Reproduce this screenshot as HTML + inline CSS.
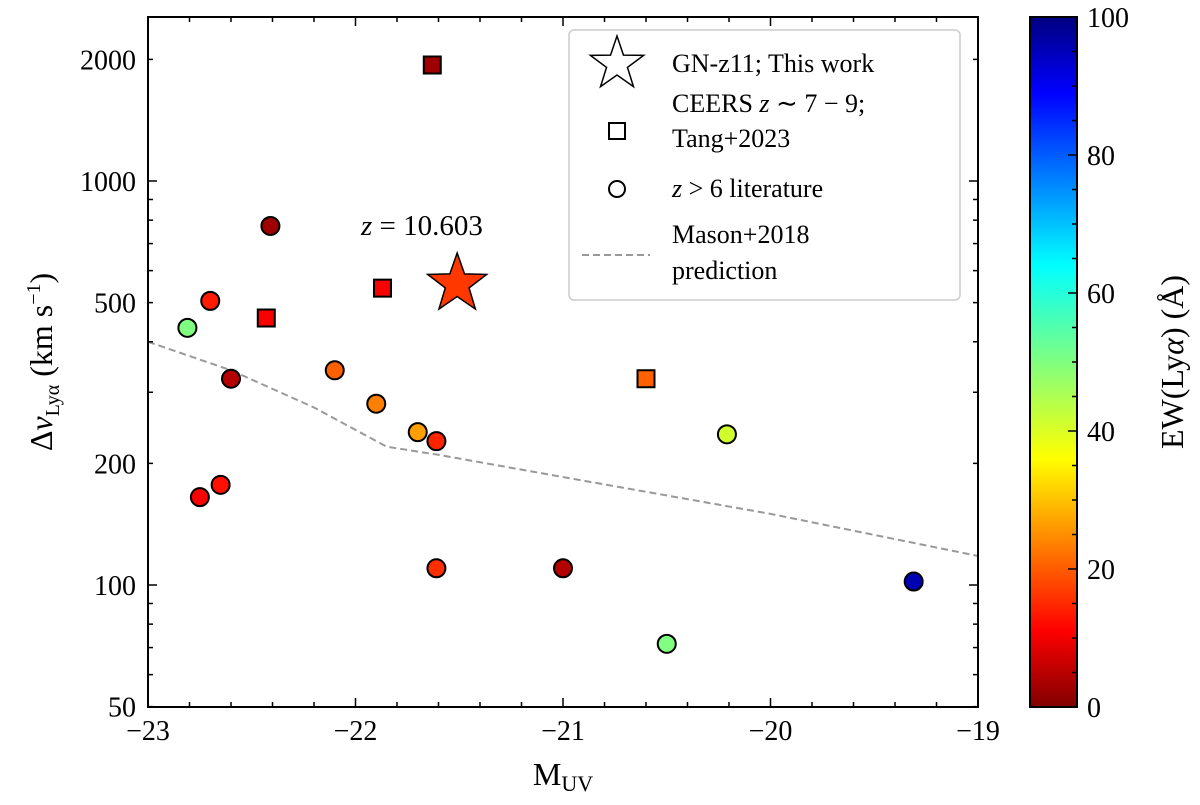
<!DOCTYPE html>
<html><head><meta charset="utf-8"><style>
body{margin:0;background:#fff;}
svg{font-family:"Liberation Serif",serif;}
</style></head><body>
<svg id="chart" width="1200" height="800" viewBox="0 0 1200 800" xmlns="http://www.w3.org/2000/svg">
<defs>
<linearGradient id="jet" x1="0" y1="1" x2="0" y2="0">
<stop offset="0" stop-color="#800000"/><stop offset="0.11" stop-color="#ff0000"/><stop offset="0.36" stop-color="#ffff00"/>
<stop offset="0.5" stop-color="#80ff80"/><stop offset="0.64" stop-color="#00ffff"/><stop offset="0.89" stop-color="#0000ff"/><stop offset="1" stop-color="#000080"/>
</linearGradient>
</defs>
<g id="plot"></g>
</svg>
<script>
const circleX=[-22.41,-22.70,-22.81,-22.60,-22.10,-21.90,-21.70,-21.61,-20.21,-22.75,-22.65,-21.61,-21.00,-19.31,-20.50];
const circleY=[774,505,433,324,340,281,239,227,236,165,177,110,110,102,71.5];
const circleEW=[3,15,50,5,22,25,28,16,42,12,14,17,5,95,50];
const squareX=[-21.63,-21.87,-22.43,-20.60];
const squareY=[1937,543,458,324];
const squareEW=[3,12,12,22];
const starX=[-21.51], starY=[556], starEW=[18];
const masonX=[-23,-22.6,-22.2,-21.85,-21.6,-21,-20,-19];
const masonY=[400,340,275,220,210,185,150,118];
const xTicks=[-23,-22,-21,-20,-19];
const yTicks=[50,100,200,500,1000,2000];
const cbTicks=[0,20,40,60,80,100];

const NS="http://www.w3.org/2000/svg";
const g=document.getElementById('plot');
const L=148,R=978,T=17,B=707;
const X=v=>L+(v+23)/4*(R-L);
const Y=v=>585-(Math.log10(v)-2)*404;
function el(t,a,p){const e=document.createElementNS(NS,t);for(const k in a)e.setAttribute(k,a[k]);(p||g).appendChild(e);return e;}
function jet(v){v=1-Math.max(0,Math.min(1,v/100));
 const f=(x)=>Math.max(0,Math.min(1,1.5-Math.abs(4*v-x)));
 return `rgb(${Math.round(255*f(3))},${Math.round(255*f(2))},${Math.round(255*f(1))})`;}

let d=masonX.map((x,i)=>(i?'L':'M')+X(x)+','+Y(masonY[i])).join('');
let ml=el('path',{d,fill:'none',stroke:'#999',"stroke-width":2,"stroke-dasharray":"7,4"});



circleX.forEach((x,i)=>{const c=el('circle',{cx:X(x),cy:Y(circleY[i]),r:9,fill:jet(circleEW[i]),stroke:'#000',"stroke-width":2});

});
squareX.forEach((x,i)=>{const c=el('rect',{x:X(x)-8.5,y:Y(squareY[i])-8.5,width:17,height:17,fill:jet(squareEW[i]),stroke:'#000',"stroke-width":2});

});
function starPath(cx,cy,ro,ri){let p='';for(let k=0;k<10;k++){const r=k%2?ri:ro,a=-Math.PI/2+k*Math.PI/5;p+=(k?'L':'M')+(cx+r*Math.cos(a))+','+(cy+r*Math.sin(a));}return p+'Z';}
starX.forEach((x,i)=>{const s=el('path',{d:starPath(X(x),Y(starY[i]),31,12.5),fill:jet(starEW[i]),stroke:'#000',"stroke-width":1.5});

});
let zt=el('text',{x:X(-21.68),y:235,"font-size":29,"text-anchor":"middle"});zt.innerHTML='<tspan font-style="italic">z</tspan> = 10.603';



el('rect',{x:L,y:T,width:R-L,height:B-T,fill:'none',stroke:'#000',"stroke-width":2});
for(let v=-23;v<=-19.001;v+=0.2){const x=X(v),maj=Math.abs(v-Math.round(v))<1e-6,len=maj?9:5;
 el('line',{x1:x,y1:B,x2:x,y2:B-len,stroke:'#000',"stroke-width":1.5});el('line',{x1:x,y1:T,x2:x,y2:T+len,stroke:'#000',"stroke-width":1.5});}
xTicks.forEach(v=>{const t=el('text',{x:X(v),y:740,"font-size":28,"text-anchor":"middle"});t.textContent=(v<0?'\u2212':'')+Math.abs(v);

});
for(let e=1;e<=3;e++)for(let m=1;m<=9;m++){const v=m*Math.pow(10,e),y=Y(v);if(y<T||y>B)continue;const len=m==1?9:5;
 el('line',{x1:L,y1:y,x2:L+len,y2:y,stroke:'#000',"stroke-width":1.5});el('line',{x1:R,y1:y,x2:R-len,y2:y,stroke:'#000',"stroke-width":1.5});}
yTicks.forEach(v=>{const t=el('text',{x:136,y:Y(v)+10,"font-size":28,"text-anchor":"end"});t.textContent=v;

});
let xl=el('text',{x:563,y:785,"font-size":32,"text-anchor":"middle"});xl.innerHTML='M<tspan font-size="22" dy="6">UV</tspan>';


let yl=el('text',{x:0,y:0,"font-size":32,"text-anchor":"middle",transform:'translate(52,362) rotate(-90)'});
yl.innerHTML='Δ<tspan font-style="italic">v</tspan><tspan font-size="20" dy="7">Lyα</tspan><tspan dy="-7"> (km s</tspan><tspan font-size="20" dy="-12">−1</tspan><tspan dy="12">)</tspan>';



const lg=el('g',{});


el('rect',{x:569,y:30,width:391,height:270,rx:5,fill:'#fff',stroke:'#ccc',"stroke-width":1.5},lg);
el('path',{d:starPath(617,64,28,11),fill:'#fff',stroke:'#000',"stroke-width":1.5},lg);
el('rect',{x:609,y:123,width:16,height:16,fill:'#fff',stroke:'#000',"stroke-width":2},lg);
el('circle',{cx:617,cy:189,r:8,fill:'#fff',stroke:'#000',"stroke-width":2},lg);
el('line',{x1:582,y1:255,x2:650,y2:255,stroke:'#999',"stroke-width":2,"stroke-dasharray":"7,4"},lg);
const lt=[[72,'GN-z11; This work'],[112,'CEERS <tspan font-style="italic">z</tspan> ∼ 7 − 9;'],[147,'Tang+2023'],[197,'<tspan font-style="italic">z</tspan> &gt; 6 literature'],[243,'Mason+2018'],[279,'prediction']];
lt.forEach(([y,s])=>{const t=el('text',{x:672,y:y,"font-size":26},lg);t.innerHTML=s;

});

const cb=el('rect',{x:1030,y:T,width:47,height:B-T,fill:'url(#jet)',stroke:'#000',"stroke-width":2});


const CY=v=>B-v/100*(B-T);
for(let v=0;v<=100;v+=5){const y=CY(v),len=v%20==0?9:5;el('line',{x1:1077,y1:y,x2:1077-len,y2:y,stroke:'#000',"stroke-width":1.5});}
cbTicks.forEach(v=>{const t=el('text',{x:1087,y:CY(v)+10,"font-size":28});t.textContent=v;

});
let cl=el('text',{x:0,y:0,"font-size":32,"text-anchor":"middle",transform:'translate(1183,362) rotate(-90)'});
cl.innerHTML='EW(Ly<tspan font-style="italic">α</tspan>) (Å)';


</script>
</body></html>
